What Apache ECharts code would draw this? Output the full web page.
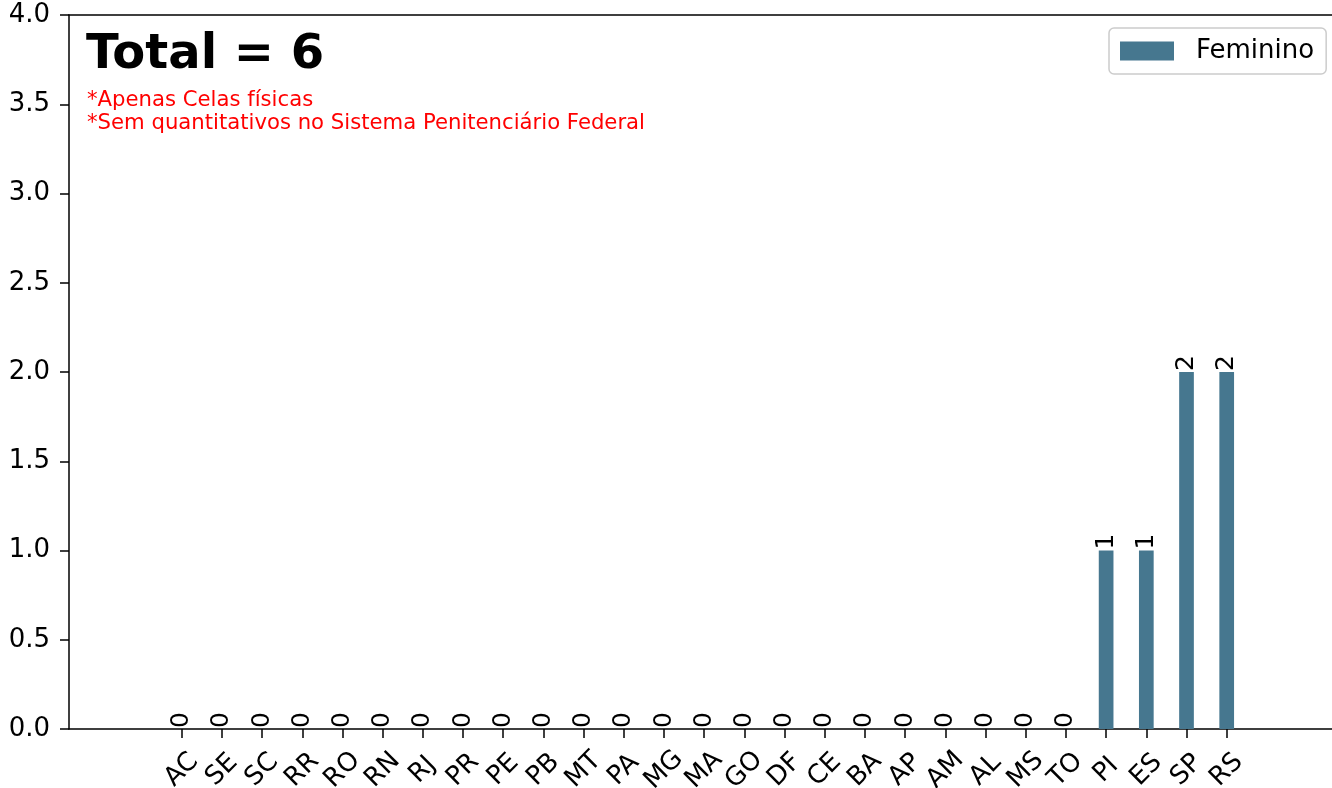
<!DOCTYPE html>
<html>
<head>
<meta charset="utf-8">
<script src="https://cdn.jsdelivr.net/npm/echarts@6/dist/echarts.min.js"></script>
<style>html,body{margin:0;padding:0;background:#fff;}#c{width:1332px;height:788px;}</style>
</head>
<body>
<div id="c"></div>
<script>
const categories = ["AC","SE","SC","RR","RO","RN","RJ","PR","PE","PB","MT","PA","MG","MA","GO","DF","CE","BA","AP","AM","AL","MS","TO","PI","ES","SP","RS"];
const feminino = [0,0,0,0,0,0,0,0,0,0,0,0,0,0,0,0,0,0,0,0,0,0,0,1,1,2,2];
const seriesName = "Feminino";
const titleText = "Total = 6";
const notes = ["*Apenas Celas físicas", "*Sem quantitativos no Sistema Penitenciário Federal"];
const yMin = 0, yMax = 4, yStep = 0.5;

const FONT = "DejaVu Sans";
const chart = echarts.init(document.getElementById('c'), null, {renderer: 'canvas'});
const TOP = 15, BOTTOM = 788 - 729;
const spine = {show: true, lineStyle: {color: '#000', width: 1.5}};
chart.setOption({
  animation: false,
  backgroundColor: '#fff',
  textStyle: {fontFamily: FONT},
  grid: [
    {left: 69, right: 0, top: TOP, bottom: BOTTOM, containLabel: false, outerBoundsMode: 'none'},
    {left: 161.6, right: 85.2, top: TOP, bottom: BOTTOM, containLabel: false, outerBoundsMode: 'none'}
  ],
  legend: {
    data: [seriesName],
    left: 1109, top: 28,
    padding: [8, 12, 8, 11],
    itemWidth: 54, itemHeight: 19, itemGap: 10,
    borderColor: '#cccccc', borderWidth: 1.5, borderRadius: 5,
    backgroundColor: '#fff',
    textStyle: {fontFamily: FONT, fontSize: 26, color: '#000', padding: [0, 0, 0, 17], lineHeight: 30},
    icon: 'rect'
  },
  graphic: [
    {type: 'text', left: 86, top: 32, style: {text: titleText, font: 'bold 48px "DejaVu Sans"', fill: '#000'}},
    {type: 'text', left: 87, top: 89, style: {text: notes.join('\n'), font: '21.2px "DejaVu Sans"', fill: '#ff0000', lineHeight: 23}}
  ],
  xAxis: [
    {gridIndex: 0, type: 'value', min: 0, max: 1, position: 'bottom',
     axisLine: spine, axisTick: {show: false}, axisLabel: {show: false}, splitLine: {show: false}},
    {gridIndex: 1, type: 'category', data: categories,
     axisLine: {show: false},
     axisTick: {show: true, alignWithLabel: true, length: 9, lineStyle: {color: '#000', width: 1.5}},
     axisLabel: {rotate: 45, interval: 0, margin: 41, align: 'center', verticalAlign: 'middle', fontFamily: FONT, fontSize: 26, color: '#000'}
    },
    {gridIndex: 0, type: 'value', min: 0, max: 1, position: 'top',
     axisLine: spine, axisTick: {show: false}, axisLabel: {show: false}, splitLine: {show: false}}
  ],
  yAxis: [
    {gridIndex: 0, type: 'value', min: yMin, max: yMax, interval: yStep,
     axisLine: spine,
     axisTick: {show: true, length: 9, lineStyle: {color: '#000', width: 1.5}},
     splitLine: {show: false},
     axisLabel: {formatter: v => v.toFixed(1), fontFamily: FONT, fontSize: 26, color: '#000', margin: 19}
    },
    {gridIndex: 1, type: 'value', min: yMin, max: yMax, show: false, splitLine: {show: false}}
  ],
  series: [
    {name: seriesName, type: 'bar', xAxisIndex: 1, yAxisIndex: 1, data: feminino,
     barWidth: 14.7,
     itemStyle: {color: '#46778f'},
     label: {show: true, position: 'top', distance: 1, rotate: 90, align: 'left', verticalAlign: 'middle',
             fontFamily: FONT, fontSize: 25, color: '#000'}
    }
  ]
});
</script>
</body>
</html>
